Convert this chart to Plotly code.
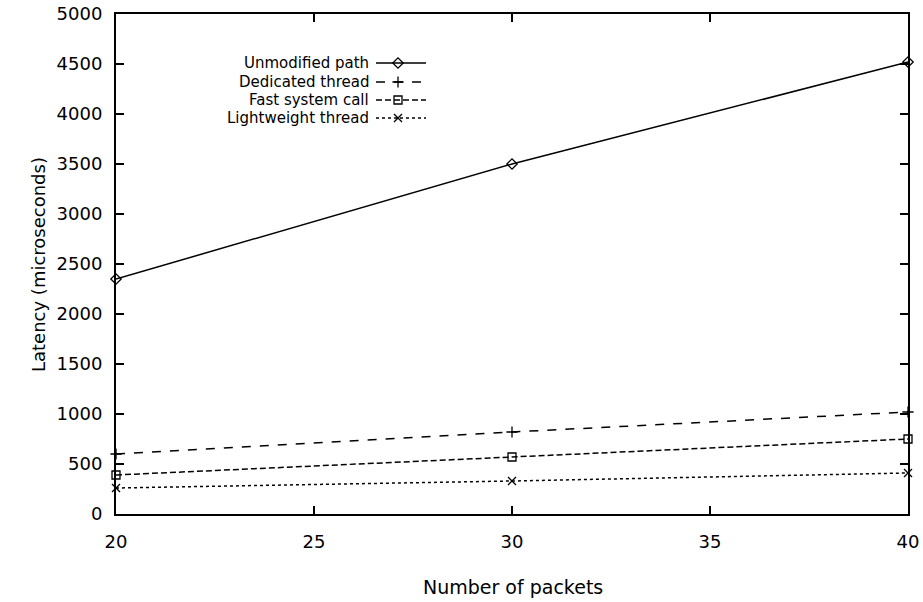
import plotly.graph_objects as go

packets = [20, 30, 40]
unmodified = [2350, 3500, 4520]
dedicated = [600, 820, 1020]
fast_call = [390, 570, 750]
lightweight = [260, 330, 410]

series_names = ["Unmodified path", "Dedicated thread", "Fast system call", "Lightweight thread"]
series_values = [unmodified, dedicated, fast_call, lightweight]
symbols = ["diamond-open", "cross-thin-open", "square-open", "x-thin-open"]
dashes = ["solid", "dash", "6px,3px", "dot"]
x_ticks = [20, 25, 30, 35, 40]
y_ticks = list(range(0, 5001, 500))
x_title = "Number of packets"
y_title = "Latency (microseconds)"

FONT = "DejaVu Sans, Verdana, sans-serif"
L, R, T, B = 116, 908, 14, 514  # plot area in pixels


def px_x(p):
    return (p - L) / (R - L)


def px_y(p):
    return (B - p) / (B - T)


fig = go.Figure()
for name, vals, sym, dash in zip(series_names, series_values, symbols, dashes):
    fig.add_trace(go.Scatter(
        x=packets, y=vals, mode="lines+markers", name=name,
        line=dict(color="black", width=1.5, dash=dash),
        marker=dict(symbol=sym, size=8, color="black", line=dict(width=1.3, color="black")),
        showlegend=False, cliponaxis=False,
    ))

# legend keys drawn on an overlay axis measured in pixels
legend_rows = [63, 82, 100, 118]
for name, sym, dash, ry in zip(series_names, symbols, dashes, legend_rows):
    fig.add_trace(go.Scatter(
        x=[376, 426], y=[ry, ry], mode="lines", xaxis="x2", yaxis="y2",
        line=dict(color="black", width=1.5, dash=dash), showlegend=False, hoverinfo="skip",
    ))
    fig.add_trace(go.Scatter(
        x=[398], y=[ry], mode="markers", xaxis="x2", yaxis="y2",
        marker=dict(symbol=sym, size=8, color="black", line=dict(width=1.3, color="black")),
        showlegend=False, hoverinfo="skip",
    ))
    fig.add_annotation(x=px_x(371), y=px_y(ry), xref="paper", yref="paper", text=name,
                       showarrow=False, xanchor="right", yanchor="middle",
                       font=dict(family=FONT, size=15, color="black"))

# axis titles
fig.add_annotation(x=px_x(513), y=px_y(587), xref="paper", yref="paper", text=x_title,
                   showarrow=False, xanchor="center", yanchor="middle",
                   font=dict(family=FONT, size=19, color="black"))
fig.add_annotation(x=px_x(38), y=px_y(265), xref="paper", yref="paper", text=y_title,
                   showarrow=False, xanchor="center", yanchor="middle", textangle=-90,
                   font=dict(family=FONT, size=18, color="black"))

axis_common = dict(showgrid=False, zeroline=False, showline=True, linecolor="black",
                   linewidth=2, mirror="ticks", ticks="inside", ticklen=8, tickwidth=1.5,
                   tickcolor="black", tickfont=dict(family=FONT, size=18, color="black"),
                   automargin=False)

fig.update_layout(
    width=923, height=602,
    margin=dict(l=L, r=923 - R, t=T, b=602 - B),
    paper_bgcolor="white", plot_bgcolor="white",
    xaxis=dict(range=[20, 40], tickvals=x_ticks, ticklabelstandoff=10, **axis_common),
    yaxis=dict(range=[0, 5000], tickvals=y_ticks, ticklabelstandoff=8, **axis_common),
    xaxis2=dict(range=[L, R], overlaying="x", visible=False, fixedrange=True),
    yaxis2=dict(range=[B, T], overlaying="y", visible=False, fixedrange=True),
    font=dict(family=FONT, color="black"),
)

fig.write_html("out.html")
